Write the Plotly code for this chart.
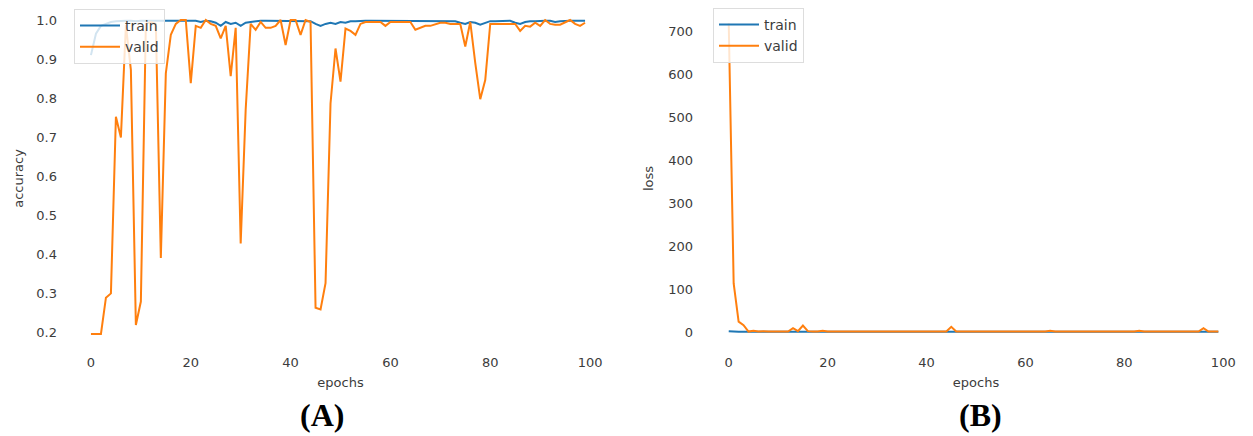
import plotly.graph_objects as go

epochs = list(range(100))

train_acc = [0.91, 0.965, 0.985, 0.99, 0.995, 0.997, 0.998, 0.998, 0.998, 0.997,
             0.998, 0.998, 0.998, 0.998, 0.997, 0.998, 0.998, 0.998, 0.998, 0.998,
             0.997, 0.998, 0.995, 0.998, 0.997, 0.993, 0.985, 0.995, 0.99, 0.993,
             0.985, 0.993, 0.995, 0.997, 0.998, 0.998, 0.998, 0.998, 0.998, 0.998,
             0.998, 0.998, 0.998, 0.998, 0.997, 0.99, 0.985, 0.99, 0.993, 0.99,
             0.995, 0.993, 0.997, 0.997, 0.998, 0.998, 0.998, 0.998, 0.998, 0.998,
             0.998, 0.998, 0.998, 0.998, 0.998, 0.998, 0.998, 0.998, 0.998, 0.998,
             0.998, 0.998, 0.998, 0.997, 0.993, 0.99, 0.995, 0.993, 0.988, 0.993,
             0.997, 0.997, 0.997, 0.998, 0.998, 0.993, 0.99, 0.995, 0.997, 0.997,
             0.998, 0.998, 0.998, 0.995, 0.997, 0.998, 0.998, 0.998, 0.998, 0.998]

valid_acc = [0.195, 0.195, 0.195, 0.288, 0.299, 0.752, 0.699, 0.987, 0.872, 0.218,
             0.278, 0.99, 0.995, 0.99, 0.39, 0.863, 0.962, 0.99, 1.0, 1.0,
             0.838, 0.985, 0.98, 1.0, 0.99, 0.985, 0.953, 0.985, 0.856, 0.98,
             0.427, 0.77, 0.99, 0.975, 0.995, 0.98, 0.98, 0.985, 1.0, 0.936,
             1.0, 1.0, 0.962, 1.0, 0.995, 0.262, 0.258, 0.325, 0.786, 0.927,
             0.842, 0.978, 0.972, 0.962, 0.99, 0.995, 0.995, 0.995, 0.995, 0.985,
             0.995, 0.995, 0.995, 0.995, 0.995, 0.975, 0.98, 0.985, 0.985, 0.99,
             0.993, 0.993, 0.99, 0.99, 0.99, 0.932, 0.995, 0.89, 0.797, 0.846,
             0.99, 0.99, 0.99, 0.99, 0.99, 0.99, 0.972, 0.985, 0.983, 0.993,
             0.985, 1.0, 0.99, 0.988, 0.988, 0.993, 1.0, 0.99, 0.985, 0.993]

train_loss = [2.0] + [0.5] * 99

valid_loss = [718, 113, 24, 16, 1, 3, 1, 2, 1, 1,
              1, 1, 1, 9, 2, 15, 2, 1, 1, 3,
              1, 1, 1, 2, 1, 1, 1, 1, 1, 1,
              1, 1, 1, 1, 1, 1, 1, 1, 1, 1,
              1, 1, 1, 1, 1, 12, 1, 1, 1, 1,
              1, 1, 1, 1, 1, 1, 1, 1, 1, 1,
              2, 1, 1, 1, 1, 3, 1, 1, 1, 1,
              1, 1, 1, 1, 1, 1, 1, 1, 1, 1,
              1, 1, 1, 3, 1, 1, 1, 1, 1, 1,
              1, 1, 1, 1, 1, 1, 9, 1, 1, 1]

acc_ticks = [0.2, 0.3, 0.4, 0.5, 0.6, 0.7, 0.8, 0.9, 1.0]
loss_ticks = [0, 100, 200, 300, 400, 500, 600, 700]
epoch_ticks = [0, 20, 40, 60, 80, 100]

BLUE = "#1f77b4"
ORANGE = "#ff7f0e"
TXT = "#3c3c3c"
FONT = "DejaVu Sans"

# page body has an 8px margin, so the figure is 8px smaller than the window
W, H = 1245, 428

fig = go.Figure()
fig.add_trace(go.Scatter(x=epochs, y=train_acc, name="train", mode="lines",
                         line=dict(color=BLUE, width=2), xaxis="x", yaxis="y", legend="legend"))
fig.add_trace(go.Scatter(x=epochs, y=valid_acc, name="valid", mode="lines",
                         line=dict(color=ORANGE, width=2), xaxis="x", yaxis="y", legend="legend"))
fig.add_trace(go.Scatter(x=epochs, y=train_loss, name="train", mode="lines",
                         line=dict(color=BLUE, width=2), xaxis="x2", yaxis="y2", legend="legend2"))
fig.add_trace(go.Scatter(x=epochs, y=valid_loss, name="valid", mode="lines",
                         line=dict(color=ORANGE, width=2), xaxis="x2", yaxis="y2", legend="legend2"))

ax_common = dict(showgrid=False, zeroline=False, showline=False, ticks="", automargin=False,
                 tickfont=dict(family=FONT, size=13, color=TXT))

fig.update_layout(
    width=W, height=H,
    margin=dict(l=0, r=0, t=0, b=0),
    paper_bgcolor="white", plot_bgcolor="white",
    font=dict(family=FONT, color=TXT),
    xaxis=dict(domain=[58 / W, 607 / W], range=[-5, 105], tickvals=epoch_ticks,
               ticklabelstandoff=4,
               title=dict(text="epochs", standoff=8, font=dict(size=13, color=TXT)),
               anchor="y", **ax_common),
    yaxis=dict(domain=[1 - 341 / H, 1.0], range=[0.1564, 1.0308], tickvals=acc_ticks,
               tickformat=".1f", ticklabelstandoff=8,
               title=dict(text="accuracy", standoff=9, font=dict(size=13, color=TXT)),
               anchor="x", **ax_common),
    xaxis2=dict(domain=[696 / W, 1240 / W], range=[-5, 105], tickvals=epoch_ticks,
                ticklabelstandoff=4,
                title=dict(text="epochs", standoff=8, font=dict(size=13, color=TXT)),
                anchor="y2", **ax_common),
    yaxis2=dict(domain=[1 - 341 / H, 1.0], range=[-39.5, 753.5], tickvals=loss_ticks,
                ticklabelstandoff=10,
                title=dict(text="loss", standoff=11, font=dict(size=13, color=TXT)),
                anchor="x2", **ax_common),
    legend=dict(x=66 / W, y=1 - 1 / H, xanchor="left", yanchor="top",
                bgcolor="rgba(255,255,255,0.8)", bordercolor="#dddddd", borderwidth=1,
                font=dict(family=FONT, size=14, color=TXT), tracegroupgap=0,
                itemwidth=40),
    legend2=dict(x=705 / W, y=1.0, xanchor="left", yanchor="top",
                 bgcolor="rgba(255,255,255,0.8)", bordercolor="#dddddd", borderwidth=1,
                 font=dict(family=FONT, size=14, color=TXT), tracegroupgap=0,
                 itemwidth=40),
    annotations=[
        dict(text="<b>(A)</b>", x=314 / W, y=1 - 407 / H, xref="paper", yref="paper",
             xanchor="center", yanchor="middle",
             showarrow=False, font=dict(family="Liberation Serif", size=32, color="black")),
        dict(text="<b>(B)</b>", x=972 / W, y=1 - 407 / H, xref="paper", yref="paper",
             xanchor="center", yanchor="middle",
             showarrow=False, font=dict(family="Liberation Serif", size=32, color="black")),
    ],
)

fig.write_html("out.html")
